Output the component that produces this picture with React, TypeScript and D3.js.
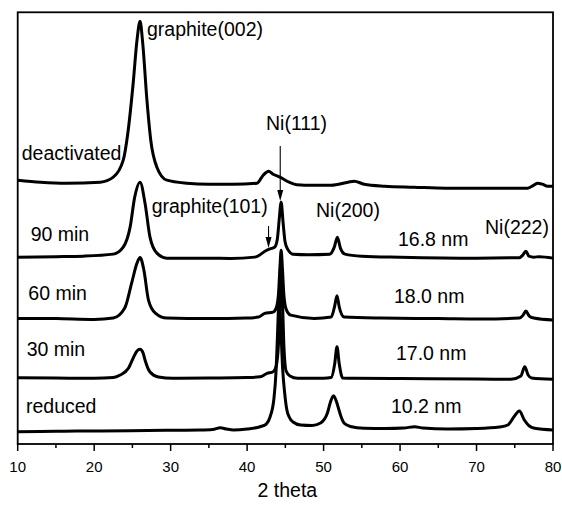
import React from "react";
import * as d3 from "d3";

// 2θ (deg) vs intensity (a.u., already stacked with offsets)
const reduced: [number, number][] = [
  [10, 12.3], [15, 12.8], [20.8, 13], [27, 13.5], [33.8, 14], [35.5, 14.5], [36.5, 16.3], [37.3, 15], [38.2, 14],
  [40, 15], [41.7, 17.3], [42.5, 20], [43, 27], [43.5, 45], [43.8, 75], [44.0, 115], [44.2, 150], [44.4, 118],
  [44.65, 75], [44.9, 52], [45.2, 34], [45.5, 27], [46, 22], [47, 19], [48.5, 18.5], [49.6, 21], [50.5, 31],
  [50.9, 42], [51.3, 48.3], [51.7, 42], [51.9, 37], [52.3, 27], [52.7, 20.7], [53.5, 17.5], [55.3, 15.7],
  [58, 15.5], [60.5, 16], [61.9, 17.3], [63, 16], [66.2, 15], [70, 15.5], [73, 17], [74.1, 19], [74.9, 27.3],
  [75.6, 33], [76.25, 24], [76.9, 18], [77.6, 15.7], [80, 14],
];

const min30: [number, number][] = [
  [10, 66.3], [15, 66], [20, 65.7], [22.5, 66.5], [23.4, 69], [24.5, 76], [25.1, 86], [25.6, 93], [26.0, 94.7],
  [26.4, 91], [26.65, 84], [27.3, 72], [28.4, 67], [30.3, 65.7], [35, 66], [40, 66.5], [41.7, 67.3], [42.6, 70.7],
  [43.4, 72.3], [43.8, 78], [44.1, 100], [44.3, 150], [44.45, 182], [44.6, 150], [44.8, 100], [45.1, 73],
  [45.6, 68], [46.6, 65.7], [50, 65.7], [51.0, 66.5], [51.45, 80], [51.75, 97.3], [52.05, 80], [52.5, 66],
  [54, 65.7], [60, 65.5], [70, 65], [74.5, 64.7], [75.8, 68], [76.3, 77.3], [76.75, 69], [77.2, 66], [80, 64.7],
];

const min60: [number, number][] = [
  [10, 125.7], [15, 125.5], [20, 124.7], [22.5, 126], [24.0, 136], [24.9, 161], [25.6, 181], [26.0, 186.7],
  [26.5, 174], [27.1, 144], [28.0, 131], [29.5, 126], [35, 125.5], [39.9, 126], [41.5, 127], [42.3, 130.7],
  [43.4, 132], [43.8, 136], [44.1, 150], [44.3, 178], [44.45, 194], [44.6, 178], [44.8, 150], [45.1, 135],
  [45.7, 129], [48.8, 125.7], [51.0, 127], [51.45, 138], [51.75, 148.3], [52.05, 137], [52.7, 127], [57.5, 126],
  [65, 125.5], [70.6, 125], [75.6, 126], [76.1, 129], [76.45, 133], [76.9, 128], [77.5, 126], [80, 124],
];

const min90: [number, number][] = [
  [10, 187], [15, 187.5], [18.6, 188], [22.5, 190], [23.8, 197], [24.7, 217], [25.3, 247], [26.0, 262],
  [26.65, 241], [27.3, 207], [28.2, 191], [29.5, 186], [35, 186], [37.8, 185.7], [41, 187], [42.6, 194],
  [43.2, 195.7], [43.6, 197], [43.95, 205], [44.2, 225], [44.45, 242], [44.7, 222], [44.95, 203], [45.3, 195],
  [46, 190], [48, 189.5], [50.8, 190], [51.4, 197], [51.8, 207], [52.2, 196], [52.8, 190], [55, 188], [60, 187],
  [70, 186], [75.6, 186.5], [76.05, 189], [76.45, 193], [76.85, 188], [77.5, 187], [78.2, 187.5], [80, 186],
];

const deactivated: [number, number][] = [
  [10, 264], [13, 262], [16.4, 261], [20.8, 262], [22.5, 267], [23.8, 284], [24.4, 311], [25.1, 361],
  [25.6, 404], [26.0, 423], [26.35, 401], [26.9, 344], [27.4, 304], [28.2, 277], [29.5, 264], [32.1, 261],
  [35, 260], [38.2, 260], [41.3, 261], [42.1, 269], [42.8, 273], [43.4, 270], [44.3, 267], [45.5, 262],
  [46.5, 259.5], [48.6, 259], [51, 259], [53.2, 262], [54, 263], [55.3, 260], [58, 258], [61.8, 257], [66, 256],
  [70.6, 256], [76.7, 256], [77.5, 259], [78, 261], [78.6, 260], [79.3, 258], [80, 258],
];

const series = [reduced, min30, min60, min90, deactivated];
const sampleNames = ["reduced", "30 min", "60 min", "90 min", "deactivated"];
const crystalliteSizes = ["10.2 nm", "17.0 nm", "18.0 nm", "16.8 nm"];
const majorTicks = [10, 20, 30, 40, 50, 60, 70, 80];
const minorTicks = [15, 25, 35, 45, 55, 65, 75];
const xDomain: [number, number] = [10, 80];
const yDomain: [number, number] = [0, 432];

export default function App() {
  const W = 562, H = 505;
  const left = 17.7, right = 553, top = 12.3, bottom = 444;
  const x = d3.scaleLinear().domain(xDomain).range([left, right]);
  const y = d3.scaleLinear().domain(yDomain).range([bottom, top]);
  const line = d3
    .line<[number, number]>()
    .x((d) => x(d[0]))
    .y((d) => y(d[1]))
    .curve(d3.curveMonotoneX);

  const font = "'Liberation Sans', Arial, sans-serif";
  const lblSize = 19.5;

  // sample label positions (px)
  const nameLabelPos = [
    [26, 412.7],
    [26.7, 356],
    [28.3, 300],
    [30.7, 240.7],
    [21.7, 160],
  ];
  const sizeLabelPos = [
    [391, 412.7],
    [396, 360],
    [394, 302.7],
    [398, 246],
  ];

  const arrow = (xd: number, y1: number, y2: number) => {
    const xp = x(xd);
    return (
      <g>
        <line x1={xp} x2={xp} y1={y1} y2={y2 - 10} stroke="#000" strokeWidth={1.1} />
        <path d={`M${xp - 3},${y2 - 11} L${xp + 3},${y2 - 11} L${xp},${y2} Z`} fill="#000" />
      </g>
    );
  };

  return (
    <svg
      width={W}
      height={H}
      style={{ position: "absolute", left: 0, top: 0, background: "#fff" }}
      fontFamily={font}
    >
      <rect x={0} y={0} width={W} height={H} fill="#fff" />
      {series.map((s, i) => (
        <path key={i} d={line(s) || ""} fill="none" stroke="#000" strokeWidth={3} strokeLinejoin="round" />
      ))}
      <rect x={left} y={top} width={right - left} height={bottom - top} fill="none" stroke="#000" strokeWidth={1.8} />
      {majorTicks.map((t) => (
        <g key={t}>
          <line x1={x(t)} x2={x(t)} y1={bottom} y2={bottom + 7} stroke="#000" strokeWidth={1.5} />
          <text x={x(t)} y={471.7} fontSize={15} textAnchor="middle" fill="#000">
            {t}
          </text>
        </g>
      ))}
      {minorTicks.map((t) => (
        <line key={t} x1={x(t)} x2={x(t)} y1={bottom} y2={bottom + 4} stroke="#000" strokeWidth={1.5} />
      ))}
      <text x={(left + right) / 2 + 2} y={497} fontSize={19.5} textAnchor="middle" fill="#000">
        2 theta
      </text>
      {sampleNames.map((n, i) => (
        <text key={n} x={nameLabelPos[i][0]} y={nameLabelPos[i][1]} fontSize={lblSize} fill="#000">
          {n}
        </text>
      ))}
      {crystalliteSizes.map((n, i) => (
        <text key={n} x={sizeLabelPos[i][0]} y={sizeLabelPos[i][1]} fontSize={lblSize} fill="#000">
          {n}
        </text>
      ))}
      <text x={147} y={36} fontSize={lblSize} fill="#000">graphite(002)</text>
      <text x={151.7} y={213.3} fontSize={lblSize} fill="#000">graphite(101)</text>
      <text x={266} y={130} fontSize={lblSize} fill="#000">Ni(111)</text>
      <text x={316} y={216.7} fontSize={lblSize} fill="#000">Ni(200)</text>
      <text x={485} y={234} fontSize={lblSize} fill="#000">Ni(222)</text>
      {arrow(44.33, 146, 201)}
      {arrow(42.8, 226, 248)}
    </svg>
  );
}
